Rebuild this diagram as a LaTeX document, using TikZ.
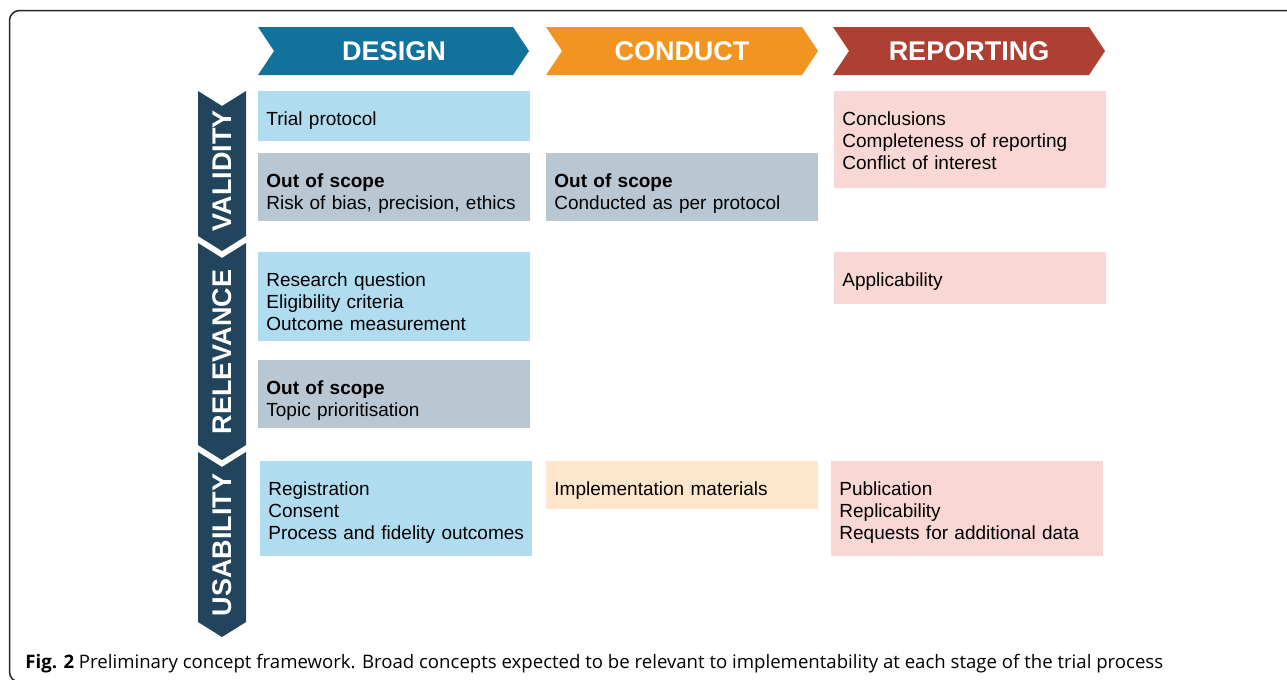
\documentclass[tikz,border=0pt]{standalone}
\usepackage{fontspec}
\setmainfont{Liberation Sans}
\newfontfamily\captionfont{Open Sans}
\usepackage{tikz}
\usetikzlibrary{positioning}

\definecolor{designblue}{HTML}{12729B}
\definecolor{conductorange}{HTML}{F29420}
\definecolor{reportred}{HTML}{AE3F33}
\definecolor{conceptnavy}{HTML}{22445C}
\definecolor{cellblue}{HTML}{B0DCEF}
\definecolor{cellgrey}{HTML}{B9C7D2}
\definecolor{cellpink}{HTML}{F8D7D4}
\definecolor{cellpeach}{HTML}{FDE6CB}

\begin{document}
\begin{tikzpicture}[
    x=1pt, y=-1pt,
    cell/.style={rectangle, anchor=north west, inner xsep=4pt, inner ysep=0pt, minimum width=136pt, text width=128pt, text height=16.9pt, align=left, font=\fontsize{9.5}{11}\selectfont},
    bluecell/.style={cell, fill=cellblue},
    greycell/.style={cell, fill=cellgrey},
    pinkcell/.style={cell, fill=cellpink},
    peachcell/.style={cell, fill=cellpeach},
    headlabel/.style={text=white, inner sep=0pt, font=\fontsize{13.5}{14}\selectfont\bfseries},
    sidelabel/.style={headlabel, rotate=90}
]
\useasboundingbox (0,0) rectangle (643.5,340);
\clip (0,0) rectangle (643.5,340);

% Frame
\draw[line width=0.75pt, black!85, rounded corners=5pt] (4.75,5.25) rectangle (660,341);

% Stage chevrons
\fill[designblue] (129,13.5) -- (256.5,13.5) -- (264.5,25.5) -- (256.5,37.5) -- (129,37.5) -- (137,25.5) -- cycle;
\fill[conductorange] (273,13.5) -- (401,13.5) -- (409,25.5) -- (401,37.5) -- (273,37.5) -- (281,25.5) -- cycle;
\fill[reportred] (416.5,13.5) -- (544.5,13.5) -- (552.5,25.5) -- (544.5,37.5) -- (416.5,37.5) -- (424.5,25.5) -- cycle;
\node[headlabel] (design) at (197,25.8) {DESIGN};
\node[headlabel] (conduct) at (341,25.8) {CONDUCT};
\node[headlabel] (reporting) at (484.5,25.8) {REPORTING};

% Concept chevrons
\fill[conceptnavy] (99,45.5) -- (111,53) -- (123,45.5) -- (123,118) -- (111,125.5) -- (99,118) -- cycle;
\fill[conceptnavy] (99,121.5) -- (111,129) -- (123,121.5) -- (123,222.5) -- (111,230) -- (99,222.5) -- cycle;
\fill[conceptnavy] (99,226) -- (111,233.5) -- (123,226) -- (123,311) -- (111,318.5) -- (99,311) -- cycle;
\node[sidelabel] (validity) at (111,85.5) {VALIDITY};
\node[sidelabel] (relevance) at (111,176) {RELEVANCE};
\node[sidelabel] (usability) at (111,272.5) {USABILITY};

% Validity row
\node[bluecell, text depth=8.1pt] (protocol) at (129,45.5) {Trial protocol};
\node[greycell, text depth=17.1pt] (biasscope) at (129,76.5) {\textbf{Out of scope}\\Risk of bias, precision, ethics};
\node[greycell, text depth=17.1pt] (conductscope) at (273,76.5) {\textbf{Out of scope}\\Conducted as per protocol};
\node[pinkcell, text depth=31.6pt] (conclusions) at (417,45.5) {Conclusions\\Completeness of reporting\\Conflict of interest};

% Relevance row
\node[bluecell, text depth=27.6pt] (question) at (129,126) {Research question\\Eligibility criteria\\Outcome measurement};
\node[greycell, text depth=17.1pt] (topicscope) at (129,180) {\textbf{Out of scope}\\Topic prioritisation};
\node[pinkcell, text depth=9.1pt] (applicability) at (417,126) {Applicability};

% Usability row
\node[bluecell, text depth=30.6pt] (registration) at (130,230.5) {Registration\\Consent\\Process and fidelity outcomes};
\node[peachcell, text depth=7.1pt] (materials) at (273,230.5) {Implementation materials};
\node[pinkcell, text depth=30.6pt] (publication) at (415.5,230.5) {Publication\\Replicability\\Requests for additional data};

% Caption
\node[anchor=base west, inner sep=0pt, font=\captionfont\fontsize{9.3}{11}\selectfont] (caption) at (12.5,334)
    {\textbf{Fig. 2} Preliminary concept framework. Broad concepts expected to be relevant to implementability at each stage of the trial process};

\end{tikzpicture}
\end{document}
